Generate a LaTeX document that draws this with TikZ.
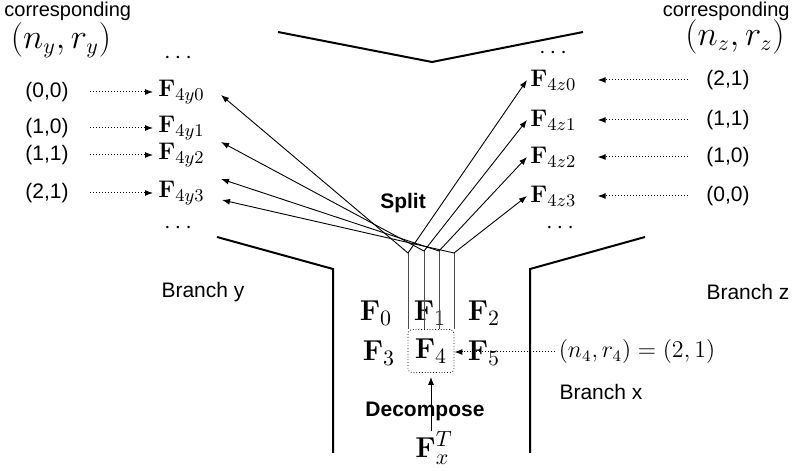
\documentclass[tikz,border=0pt]{standalone}
\usepackage[no-math]{fontspec}
\setsansfont{Liberation Sans}
\usepackage{tikz}
\usetikzlibrary{
    arrows.meta,
    calc,
    positioning,
}
\tikzstyle{lbl}=[font=\sffamily\fontsize{10.5}{12}\selectfont,inner sep=1.5pt]
\tikzstyle{blbl}=[font=\sffamily\bfseries\fontsize{10.5}{12}\selectfont,inner sep=1pt]
\tikzstyle{head}=[font=\sffamily\fontsize{10}{11}\selectfont,inner sep=0.5pt]
\tikzstyle{pair}=[font=\fontsize{16}{19}\selectfont,inner sep=0pt]
\tikzstyle{feat}=[font=\fontsize{13}{15}\selectfont,inner sep=1.5pt,anchor=west]
\tikzstyle{fmap}=[font=\fontsize{15}{18}\selectfont,inner sep=1pt]
\tikzstyle{wall}=[line width=1pt]
\tikzstyle{ptr}=[->,line width=0.45pt]
\tikzstyle{corr}=[->,densely dotted,line width=0.5pt]
\tikzstyle{strand}=[line width=0.4pt,black!70]
\tikzset{
    >={Latex[length=4pt,width=3pt]}
}

\begin{document}
\begin{tikzpicture}[x=0.5pt,y=0.5pt]
    \useasboundingbox (0,0) rectangle (793,471);

    % Walls
    \draw[wall] (278,439) -- (432,409) -- (583,439);
    \draw[wall] (217,234) -- (333,202) -- (333,18);
    \draw[wall] (645,234) -- (530,202) -- (530,18);

    % Branch x
    \node[fmap] (F0) at (376,158) {$\mathbf{F}_0$};
    \node[fmap] (F1) at (430,158) {$\mathbf{F}_1$};
    \node[fmap] (F2) at (484,158) {$\mathbf{F}_2$};
    \node[fmap] (F3) at (379,118) {$\mathbf{F}_3$};
    \node[fmap,draw,densely dotted,rounded corners=2pt,minimum width=23pt,minimum height=21.5pt] (F4) at (431,120) {$\mathbf{F}_4$};
    \node[fmap] (F5) at (484,118) {$\mathbf{F}_5$};
    \node[fmap,inner sep=0pt] (Fx) at (434,23) {$\mathbf{F}_x^T$};
    \node[blbl] (decomp) at (425,60) {Decompose};
    \draw[ptr,shorten >=2pt] (Fx.north -| F4.south) -- (F4.south);
    \node[font=\fontsize{12}{14}\selectfont,inner sep=1.5pt] (n4) at (637,119) {$(n_4,r_4)=(2,1)$};
    \draw[corr] (n4.west) -- (n4.west -| F4.east);
    \node[lbl] (bx) at (601,79) {Branch x};

    % Split
    \coordinate (v0) at (408,218);
    \coordinate (v1) at (424,220);
    \coordinate (v2) at (439,220);
    \coordinate (v3) at (454,218);
    \draw[strand] (v0) -- (v0 |- F4.north);
    \draw[strand] (v1) -- (v1 |- F4.north);
    \draw[strand] (v2) -- (v2 |- F4.north);
    \draw[strand] (v3) -- (v3 |- F4.north);
    \node[blbl] (split) at (403,268) {Split};

    % Branch y
    \node[lbl] (by) at (203,179) {Branch y};
    \node[head,anchor=west] (corry) at (3,460) {corresponding};
    \node[pair] (nyry) at (61,431) {$(n_y,r_y)$};
    \node[feat,anchor=center] (dy0) at (178,413) {$\cdots$};
    \node[feat] (y0) at (155,379) {$\mathbf{F}_{4y0}$};
    \node[feat] (y1) at (155,343) {$\mathbf{F}_{4y1}$};
    \node[feat] (y2) at (155,316) {$\mathbf{F}_{4y2}$};
    \node[feat] (y3) at (155,278) {$\mathbf{F}_{4y3}$};
    \node[feat,anchor=center] (dy1) at (178,243) {$\cdots$};
    \node[lbl] (py0) at (47,379) {(0,0)};
    \node[lbl] (py1) at (47,343) {(1,0)};
    \node[lbl] (py2) at (47,316) {(1,1)};
    \node[lbl] (py3) at (47,278) {(2,1)};
    \draw[corr,shorten <=9pt,shorten >=1pt] (py0) -- (y0);
    \draw[corr,shorten <=9pt,shorten >=1pt] (py1) -- (y1);
    \draw[corr,shorten <=9pt,shorten >=1pt] (py2) -- (y2);
    \draw[corr,shorten <=9pt,shorten >=1pt] (py3) -- (y3);
    \draw[ptr] (v0) -- ($(y0.east)+(13,-3)$);
    \draw[ptr] (v1) -- ($(y1.east)+(13,-14)$);
    \draw[ptr] (v2) -- ($(y2.east)+(13,-24)$);
    \draw[ptr] (v3) -- ($(y3.east)+(14,-7)$);

    % Branch z
    \node[lbl] (bz) at (748,179) {Branch z};
    \node[head,anchor=east] (corrz) at (791,460) {corresponding};
    \node[pair] (nzrz) at (735,434) {$(n_z,r_z)$};
    \node[feat,anchor=center] (dz0) at (553,418) {$\cdots$};
    \node[feat] (z0) at (527,391) {$\mathbf{F}_{4z0}$};
    \node[feat] (z1) at (527,351) {$\mathbf{F}_{4z1}$};
    \node[feat] (z2) at (527,314) {$\mathbf{F}_{4z2}$};
    \node[feat] (z3) at (527,275) {$\mathbf{F}_{4z3}$};
    \node[feat,anchor=center] (dz1) at (560,243) {$\cdots$};
    \node[lbl] (pz0) at (728,391) {(2,1)};
    \node[lbl] (pz1) at (728,351) {(1,1)};
    \node[lbl] (pz2) at (728,314) {(1,0)};
    \node[lbl] (pz3) at (728,275) {(0,0)};
    \draw[corr,shorten <=7.5pt,shorten >=9pt] (pz0) -- (z0);
    \draw[corr,shorten <=7.5pt,shorten >=9pt] (pz1) -- (z1);
    \draw[corr,shorten <=7.5pt,shorten >=9pt] (pz2) -- (z2);
    \draw[corr,shorten <=7.5pt,shorten >=9pt] (pz3) -- (z3);
    \draw[ptr] (v0) -- (z0.west);
    \draw[ptr] (v1) -- (z1.west);
    \draw[ptr] (v2) -- (z2.west);
    \draw[ptr] (v3) -- (z3.west);
\end{tikzpicture}
\end{document}
